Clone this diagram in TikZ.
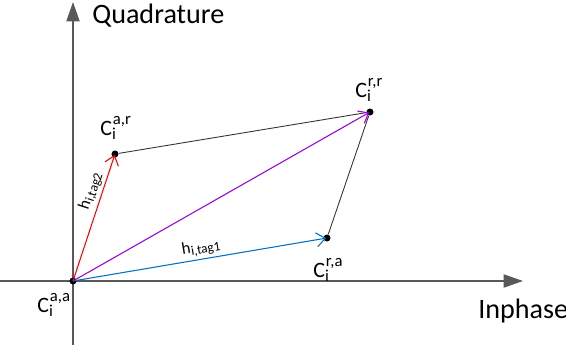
\documentclass[tikz,border=0pt]{standalone}
\usepackage{fontspec}
\setmainfont{Carlito}
\usepackage{xcolor}
\usetikzlibrary{arrows.meta,positioning}
\definecolor{vecblue}{RGB}{0,112,192}
\definecolor{vecpurple}{RGB}{153,0,221}
\definecolor{axisgray}{RGB}{89,89,89}
% constellation point label: C, sub i, super #1
\newcommand{\cpt}[1]{\fontsize{12.5}{14}\selectfont C\rlap{\raisebox{-0.45ex}{\fontsize{9.5}{11}\selectfont i}}\raisebox{1.0ex}{\fontsize{9.5}{11}\selectfont\hspace{0.5pt}#1}}
\newcommand{\hvec}[1]{\fontsize{9.5}{11}\selectfont h\raisebox{-0.35ex}{\fontsize{7.5}{8}\selectfont i,tag#1}}

\begin{document}
\begin{tikzpicture}[
  x=0.02cm, y=-0.02cm,
  font=\fontsize{16}{19}\selectfont,
  axis/.style={draw=axisgray, line width=0.75pt, -{Triangle[length=11pt, width=7.5pt]}},
  dot/.style={circle, fill=black, inner sep=0pt, minimum size=4pt},
  vec/.style={line width=0.6pt, -{Straight Barb[length=5pt, width=8pt, line width=0.6pt]}, shorten >=0.5pt},
  edge/.style={draw=black!80, line width=0.5pt},
  lbl/.style={inner sep=0pt, anchor=base west}
]
\useasboundingbox (0,0) rectangle (566,345);
% axes
\coordinate (xl) at (0,281);
\coordinate (xr) at (523,281);
\coordinate (yb) at (73,345);
\coordinate (yt) at (73,2);
\draw[axis] (xl) -- (xr);
\draw[axis] (yb) -- (yt);
\node[anchor=base west, inner sep=0pt] (quad) at (92,23) {Quadrature};
\node[anchor=base west, inner sep=0pt] (inph) at (478,318) {Inphase};
% constellation points
\node[dot] (aa) at (73,281) {};
\node[dot] (ar) at (115,154) {};
\node[dot] (rr) at (370,112) {};
\node[dot] (ra) at (327,238) {};
\draw[edge] (ar) -- (rr);
\draw[edge] (ra) -- (rr);
\draw[vec, red] (aa.center) -- (ar.center);
\draw[vec, vecblue] (aa.center) -- (ra.center);
\draw[vec, vecpurple] (aa.center) -- (rr.center);
% labels
\node[lbl] (laa) at (37,312) {\cpt{a,a}};
\node[lbl] (lar) at (100,135) {\cpt{a,r}};
\node[lbl] (lrr) at (355,97) {\cpt{r,r}};
\node[lbl] (lra) at (313,277) {\cpt{r,a}};
\node[rotate=71.7, inner sep=0pt] (h2) at (91,191) {\hvec{2}};
\node[rotate=9.6, inner sep=0pt] (h1) at (201,248) {\hvec{1}};
\end{tikzpicture}
\end{document}
